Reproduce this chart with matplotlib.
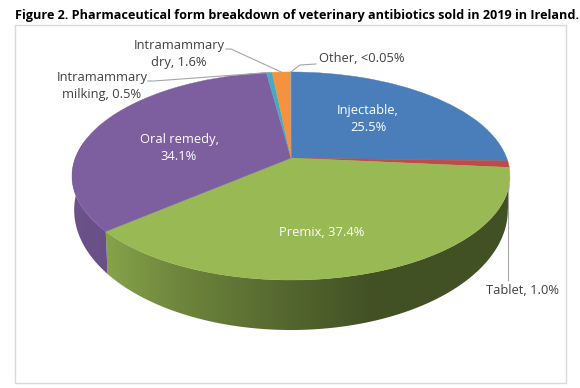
import numpy as np
import matplotlib
matplotlib.use("Agg")
import matplotlib.pyplot as plt
from matplotlib.transforms import Transform
from matplotlib.patches import Rectangle, Polygon

categories = ["Injectable", "Tablet", "Premix", "Oral remedy",
              "Intramammary milking", "Intramammary dry", "Other"]
values = [25.5, 1.0, 37.4, 34.1, 0.5, 1.6, 0.04]
colors = ["#4A7EBB", "#BE4B48", "#98B954", "#7D5FA0", "#46AAC5", "#F59240", "#A5A5A5"]
title = "Figure 2. Pharmaceutical form breakdown of veterinary antibiotics sold in 2019 in Ireland."

# perspective view of the disc (layout, in pixels)
CX, CY, A, B, K = 291.0, 158.0, 215.7, 100.9, 0.173
BOT_CY, BOT_SX, BOT_SY = 189.2, 0.99, 1.154


class Tilt(Transform):
    input_dims = output_dims = 2
    is_separable = False
    has_inverse = False

    def transform_non_affine(self, xy):
        xy = np.asarray(xy, float)
        w = 1 + K * xy[:, 1]
        return np.column_stack([CX + A * xy[:, 0] / w, CY - B * xy[:, 1] / w])


def top(t):
    w = 1 + K * np.sin(t)
    return CX + A * np.cos(t) / w, CY - B * np.sin(t) / w


def bottom(t):
    x, y = top(t)
    return CX + BOT_SX * (x - CX), BOT_CY + BOT_SY * (y - CY)


plt.rcParams["font.family"] = ["Open Sans", "DejaVu Sans"]
fig = plt.figure(figsize=(5.8, 3.88), dpi=100, facecolor="white")
ax = fig.add_axes([0, 0, 1, 1])

wedges, _ = ax.pie(values, colors=colors, startangle=90, counterclock=False,
                   labeldistance=None, wedgeprops=dict(linewidth=0.3))
tilt = Tilt()
for w, c in zip(wedges, colors):
    w.set_transform(tilt + ax.transData)
    w.set_edgecolor(c)
    w.set_zorder(5)

ax.add_patch(Rectangle((14.5, 24.5), 551.5, 358.5, fc="white", ec="#D9D9D9", lw=1, zorder=0))

# side wall, drawn from the slice angles, shaded along x
shade_x = [70, 105, 106, 180, 290, 370, 510]
shade_other = [0.86, 0.84, 0.84, 0.84, 0.84, 0.84, 0.84]
shade_green = [0.92, 0.90, 0.88, 0.72, 0.55, 0.44, 0.44]
cum = np.cumsum([0] + values) / np.sum(values) * 2 * np.pi
T_MIN, T_MAX = np.radians(-190), np.radians(-10)
grid_x = np.linspace(60, 520, 461)
for i, c in enumerate(colors):
    t0 = np.pi / 2 - cum[i + 1]
    t1 = np.pi / 2 - cum[i]
    t0, t1 = max(t0, T_MIN), min(t1, T_MAX)
    if t1 <= t0:
        continue
    ts = np.linspace(t0, t1, 200)
    xt, yt = top(ts)
    xb, yb = bottom(ts)
    outline = np.column_stack([np.r_[xt, xb[::-1]], np.r_[yt, yb[::-1]]])
    tone = shade_green if categories[i] == "Premix" else shade_other
    rgb = np.array(matplotlib.colors.to_rgb(c))
    img = np.interp(grid_x, shade_x, tone)[None, :, None] * rgb[None, None, :]
    im = ax.imshow(img, extent=(60, 520, 340, 60), aspect="auto",
                   interpolation="bilinear", zorder=3)
    im.set_clip_path(Polygon(outline, closed=True, transform=ax.transData))

ax.set_aspect("auto")
ax.set_xlim(0, 580)
ax.set_ylim(388, 0)
ax.set_frame_on(False)

# labels
dark = "#404040"
fs = 9.3
inside = [("Injectable,\n25.5%", 368, 119), ("Oral remedy,\n34.1%", 179, 148),
          ("Premix, 37.4%", 322, 233)]
for s, x, y in inside:
    ax.text(x, y, s, color="white", fontsize=fs, ha="center", va="center",
            linespacing=1.4, zorder=6)
outside = [("Intramammary\ndry, 1.6%", 179, 54), ("Intramammary\nmilking, 0.5%", 102, 86),
           ("Other, <0.05%", 362, 59), ("Tablet, 1.0%", 523, 290)]
for s, x, y in outside:
    ax.text(x, y, s, color=dark, fontsize=fs, ha="center", va="center",
            linespacing=1.4, zorder=6)

# leader lines run to the slice mid-angles
mid = {n: np.pi / 2 - (cum[i] + cum[i + 1]) / 2 for i, n in enumerate(categories)}
lead = "#A6A6A6"
for name, knee in [("Intramammary dry", [(226, 49), (231, 49)]),
                   ("Other", [(316, 64), (300, 65)]),
                   ("Intramammary milking", [(148, 81), (154, 81)])]:
    x, y = top(np.array(mid[name]))
    px = [p[0] for p in knee] + [float(x)]
    py = [p[1] for p in knee] + [float(y)]
    ax.plot(px, py, color=lead, lw=0.8, zorder=7)
ax.plot([508, 508], [280, 186], color=lead, lw=0.8, zorder=7)

ax.text(15, 16, title, fontsize=9.05, fontweight="bold", color="black",
        ha="left", va="center", zorder=8)

fig.savefig("out.png", dpi=100, facecolor="white")
